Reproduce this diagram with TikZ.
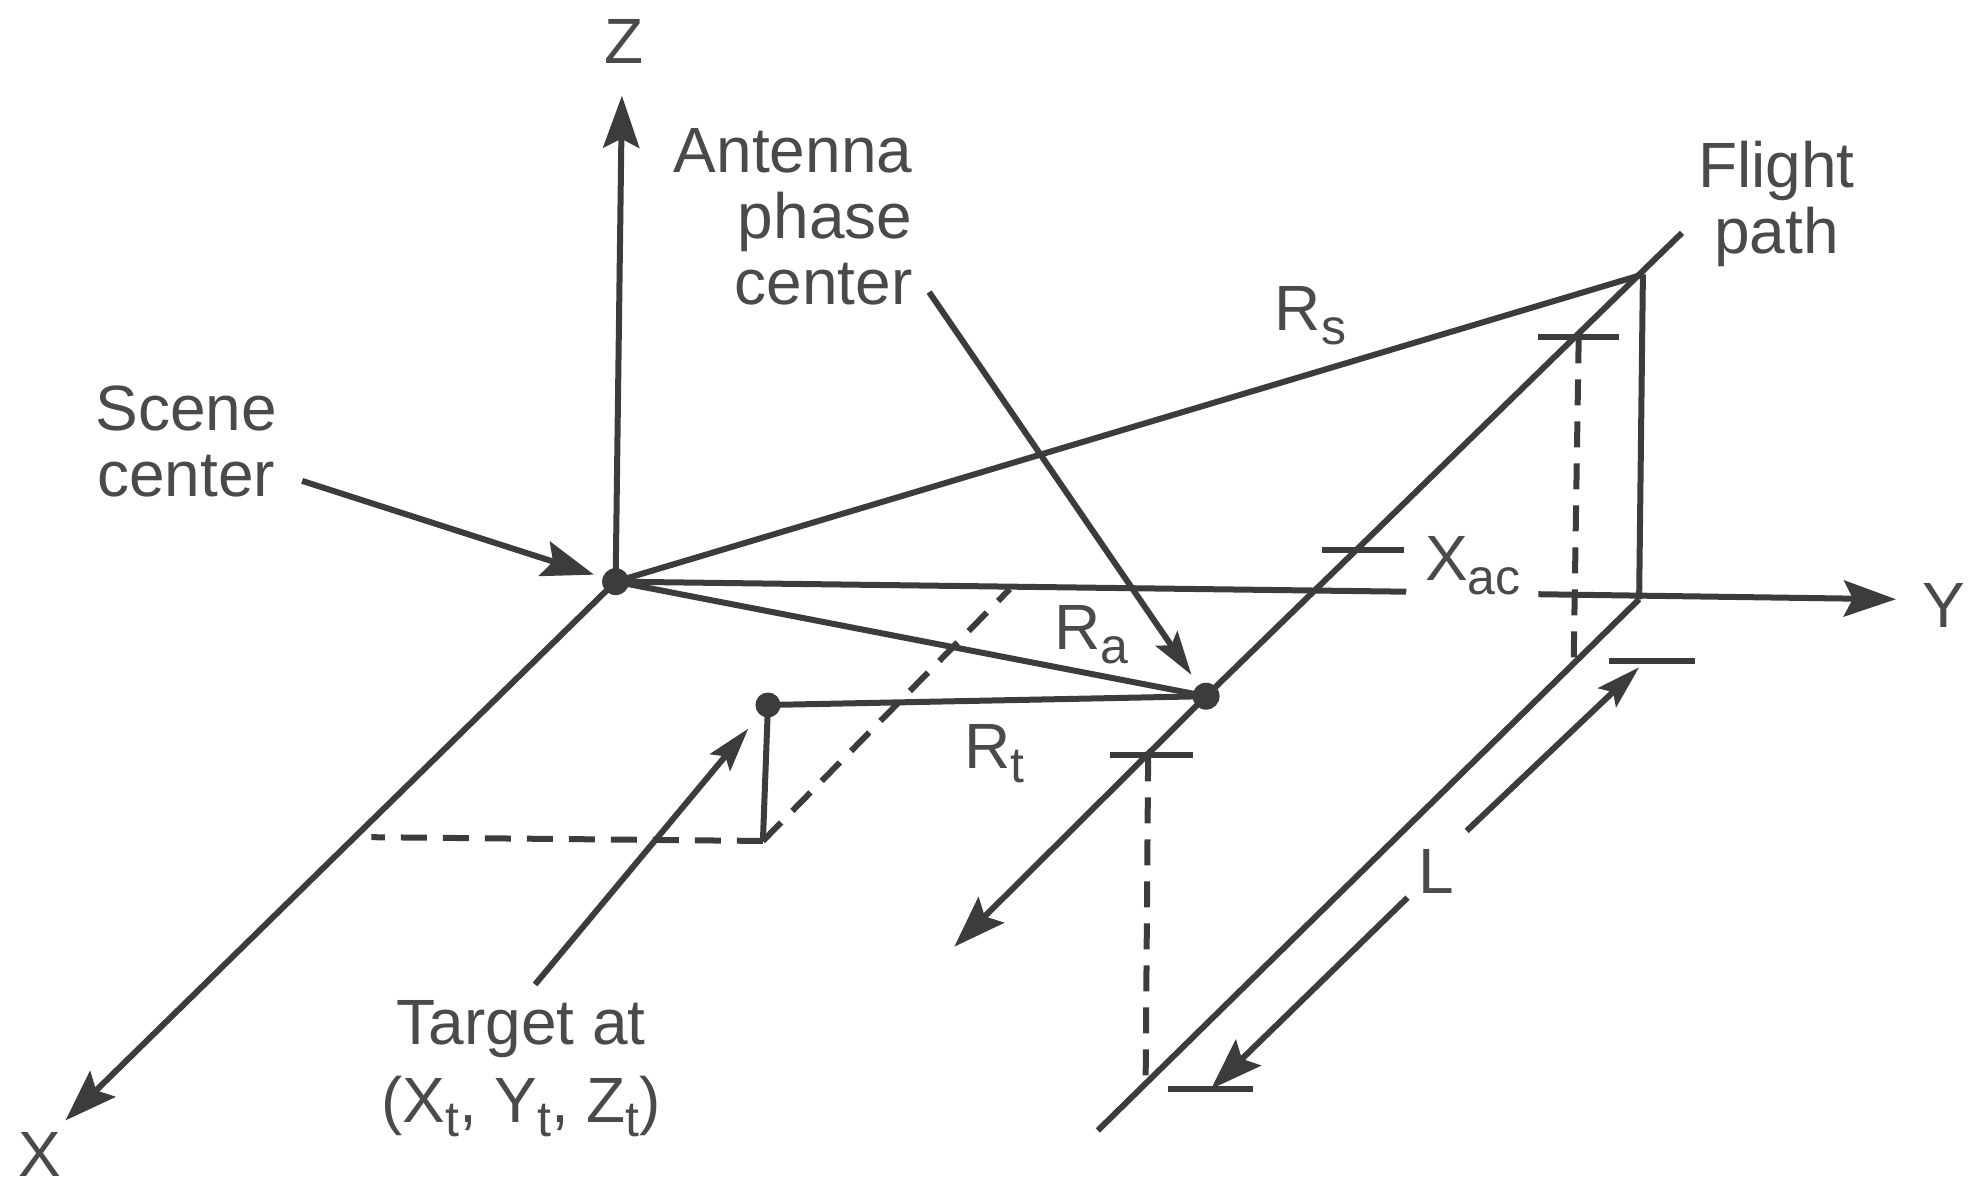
\documentclass[tikz,border=0pt]{standalone}
\usepackage{fontspec}
\setmainfont{Liberation Sans}
\usetikzlibrary{arrows.meta}
\definecolor{ink}{HTML}{3C3C3C}
\definecolor{txt}{HTML}{4A4A4A}
\newcommand{\sbs}[1]{\raisebox{-14pt}{\fontsize{50}{50}\selectfont #1}}
\tikzset{
  ln/.style={draw=ink,line width=6pt},
  dsh/.style={draw=ink,line width=6pt,dash pattern=on 26pt off 16pt},
  arr/.style={ln,-{Stealth[length=52pt,width=36pt,inset=9pt]}},
  arrs/.style={ln,-{Stealth[length=44pt,width=26pt,inset=8pt]}},
  lab/.style={text=txt,font=\fontsize{64}{64}\selectfont,inner sep=0pt,align=center},
  pt/.style={circle,fill=ink,inner sep=0pt,minimum size=27pt},
}
\begin{document}
\begin{tikzpicture}[x=1.259pt,y=-1.259pt]
\useasboundingbox (0,0) rectangle (1568,950.7);
% points
\coordinate (O0) at (489,462);
\coordinate (Zt) at (494,76);
\coordinate (Xe) at (52,890);
\coordinate (Yend) at (1506,476);
\coordinate (Y1) at (1117,470);
\coordinate (Y2) at (1222,472);
\coordinate (P) at (1305,218);
\coordinate (Ft) at (1336,185);
\coordinate (Foot) at (1302,476);
\coordinate (Gb) at (872,898);
\coordinate (A0) at (958,553);
\coordinate (Ae) at (758,752);
\coordinate (T0) at (610,560);
\coordinate (Tb) at (606,668);
\coordinate (Dl) at (295,665);
\coordinate (Du) at (802,468);
\node[pt] (O) at (O0) {};
\node[pt] (A) at (A0) {};
\node[pt,minimum size=25pt] (T) at (T0) {};
% axes
\draw[arr] (O0) -- (Zt);
\draw[arr] (O0) -- (Xe);
\draw[ln] (O0) -- (Y1);
\draw[arr] (Y2) -- (Yend);
% ranges
\draw[ln] (O0) -- (P);
\draw[ln] (O0) -- (A0);
\draw[ln] (T0) -- (A0);
\draw[ln] (T0) -- (Tb);
% flight path
\draw[ln] (A0) -- (Ft);
\draw[arr] (A0) -- (Ae);
\draw[ln] (P) -- (Foot);
\draw[ln] (Foot) -- (Gb);
% dashed
\draw[dsh] (Tb) -- (Dl);
\draw[dsh] (Tb) -- (Du);
\coordinate (U1) at (1254,268);
\coordinate (U2) at (1250,526);
\coordinate (V1) at (912,600);
\coordinate (V2) at (910,860);
\draw[dsh] (U1) -- (U2);
\draw[dsh] (V1) -- (V2);
% ticks
\foreach \n/\a/\b/\y in {a/1222/1286/268, b/882/948/600, c/1050/1115/437, d/1278/1346/525, e/928/995/865}{
  \coordinate (t\n1) at (\a,\y);
  \coordinate (t\n2) at (\b,\y);
  \draw[ln] (t\n1) -- (t\n2);
}
% L arrows
\coordinate (L1) at (1165,660);
\coordinate (L1e) at (1302,530);
\coordinate (L2) at (1118,713);
\coordinate (L2e) at (962,865);
\draw[arrs] (L1) -- (L1e);
\draw[arr] (L2) -- (L2e);
% labels
\node[lab] (lz) at (496,33) {Z};
\node[lab] (lx) at (32,917) {X};
\node[lab] (ly) at (1544,481) {Y};
\node[lab] (lant) at (630,172) {\hfill Antenna\\[2pt]\hfill phase\\[2pt]\hfill center};
\node[lab] (lfl) at (1411,162) {Flight\\[2pt]path};
\node[lab] (lsc) at (148,351) {Scene\\[2pt]center};
\node[lab] (ltg) at (414,849) {Target at\\[14pt](X\sbs{t}, Y\sbs{t}, Z\sbs{t})};
\node[lab] (lrs) at (1041,251) {R\sbs{s}};
\node[lab] (lra) at (867,504) {R\sbs{a}};
\node[lab] (lrt) at (790,599) {R\sbs{t}};
\node[lab] (lxac) at (1170,449) {X\sbs{ac}};
\node[lab] (ll) at (1141,692) {L};
% label arrows
\coordinate (s1) at (240,382);
\coordinate (s2) at (738,232);
\coordinate (s3) at (425,782);
\draw[arr,shorten >=9pt] (s1) -- (O);
\draw[arrs,shorten >=12pt] (s2) -- (A);
\draw[arrs,shorten >=18pt] (s3) -- (T);
\end{tikzpicture}
\end{document}
